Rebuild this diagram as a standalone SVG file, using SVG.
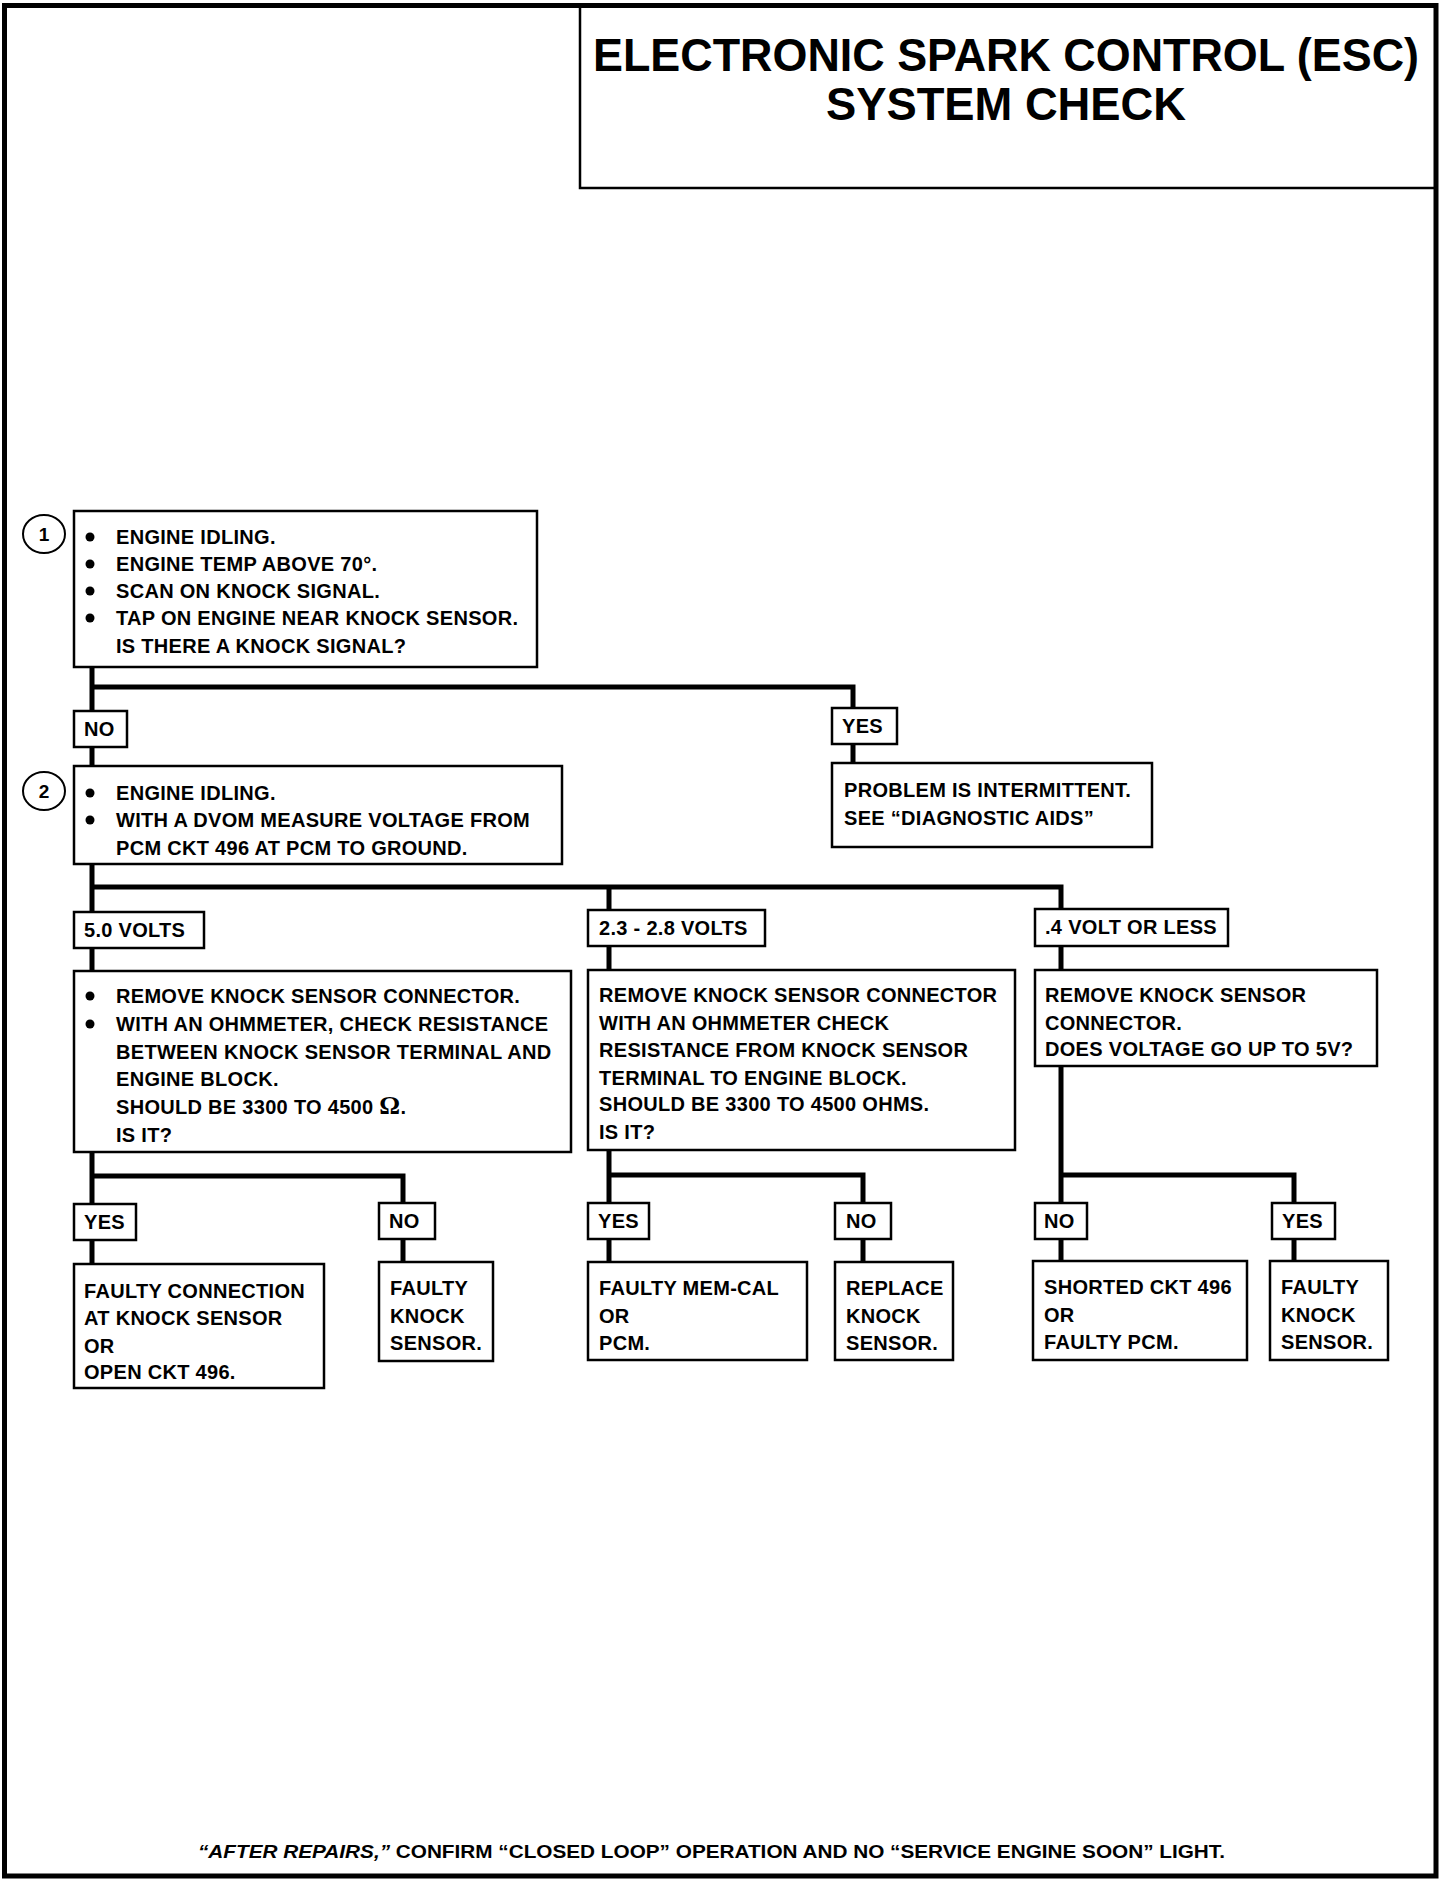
<svg xmlns="http://www.w3.org/2000/svg" width="1456" height="1882" viewBox="0 0 1456 1882">
<style>
text{font-family:"Liberation Sans",Arial,sans-serif;font-weight:bold;fill:#000}
.t{font-size:20px;letter-spacing:0.3px}
.box{fill:#fff;stroke:#000;stroke-width:2.5}
.conn{fill:none;stroke:#000;stroke-width:5;stroke-linejoin:miter;stroke-linecap:square}
.frame{fill:none;stroke:#000;stroke-width:5}
.num{fill:#fff;stroke:#000;stroke-width:2}
</style>
<rect width="1456" height="1882" fill="#fff"/>
<g id="frame">
<path class="frame" d="M4.5,1876 V5.5 H1436 V1876 Z"/>
</g>
<g id="title">
<path d="M580,5.5 V188 H1436" fill="none" stroke="#000" stroke-width="2.5"/>
<text x="1006" y="71" font-size="46" text-anchor="middle" textLength="826" lengthAdjust="spacingAndGlyphs">ELECTRONIC SPARK CONTROL (ESC)</text>
<text x="1006" y="120" font-size="46" text-anchor="middle" textLength="360" lengthAdjust="spacingAndGlyphs">SYSTEM CHECK</text>
</g>
<g id="connectors">
<path class="conn" d="M92,667 V711 M92,687 H853 V708 M92,747 V766 M853,744 V763"/>
<path class="conn" d="M92,864 V912 M92,887 H1061 V909 M609,887 V910 M92,948 V971 M609,946 V970 M1061,946 V970"/>
<path class="conn" d="M92,1152 V1204 M92,1176 H403 V1203 M609,1150 V1203 M609,1175 H863 V1203 M1061,1066 V1203 M1061,1175 H1294 V1203"/>
<path class="conn" d="M92,1240 V1264 M403,1239 V1262 M609,1239 V1262 M863,1239 V1262 M1061,1239 V1262 M1294,1239 V1262"/>
</g>
<g id="step1">
<ellipse class="num" cx="44" cy="534" rx="21" ry="19"/>
<text x="44" y="541" font-size="19" text-anchor="middle">1</text>
<rect class="box" x="74" y="511" width="463" height="156"/>
<circle cx="90" cy="537" r="4.5"/><circle cx="90" cy="564" r="4.5"/><circle cx="90" cy="591" r="4.5"/><circle cx="90" cy="618" r="4.5"/>
<text class="t" x="116" y="544">ENGINE IDLING.</text>
<text class="t" x="116" y="571">ENGINE TEMP ABOVE 70°.</text>
<text class="t" x="116" y="598">SCAN ON KNOCK SIGNAL.</text>
<text class="t" x="116" y="625">TAP ON ENGINE NEAR KNOCK SENSOR.</text>
<text class="t" x="116" y="653">IS THERE A KNOCK SIGNAL?</text>
</g>
<g id="label-no1">
<rect class="box" x="74" y="711" width="53" height="36"/>
<text class="t" x="84" y="736">NO</text>
</g>
<g id="label-yes1">
<rect class="box" x="832" y="708" width="65" height="36"/>
<text class="t" x="842" y="733">YES</text>
</g>
<g id="intermittent">
<rect class="box" x="832" y="763" width="320" height="84"/>
<text class="t" x="844" y="797">PROBLEM IS INTERMITTENT.</text>
<text class="t" x="844" y="825">SEE “DIAGNOSTIC AIDS”</text>
</g>
<g id="step2">
<ellipse class="num" cx="44" cy="791" rx="21" ry="19"/>
<text x="44" y="798" font-size="19" text-anchor="middle">2</text>
<rect class="box" x="74" y="766" width="488" height="98"/>
<circle cx="90" cy="793" r="4.5"/><circle cx="90" cy="820" r="4.5"/>
<text class="t" x="116" y="800">ENGINE IDLING.</text>
<text class="t" x="116" y="827">WITH A DVOM MEASURE VOLTAGE FROM</text>
<text class="t" x="116" y="855">PCM CKT 496 AT PCM TO GROUND.</text>
</g>
<g id="label-5v">
<rect class="box" x="74" y="912" width="130" height="36"/>
<text class="t" x="84" y="937">5.0 VOLTS</text>
</g>
<g id="label-23v">
<rect class="box" x="588" y="910" width="177" height="36"/>
<text class="t" x="599" y="935">2.3 - 2.8 VOLTS</text>
</g>
<g id="label-04v">
<rect class="box" x="1035" y="909" width="193" height="37"/>
<text class="t" x="1045" y="934">.4 VOLT OR LESS</text>
</g>
<g id="check-5v">
<rect class="box" x="74" y="971" width="497" height="181"/>
<circle cx="90" cy="996" r="4.5"/><circle cx="90" cy="1024" r="4.5"/>
<text class="t" x="116" y="1003">REMOVE KNOCK SENSOR CONNECTOR.</text>
<text class="t" x="116" y="1031">WITH AN OHMMETER, CHECK RESISTANCE</text>
<text class="t" x="116" y="1059">BETWEEN KNOCK SENSOR TERMINAL AND</text>
<text class="t" x="116" y="1086">ENGINE BLOCK.</text>
<text class="t" x="116" y="1114">SHOULD BE 3300 TO 4500 <tspan font-size="26" font-family="'Liberation Serif',serif">Ω</tspan>.</text>
<text class="t" x="116" y="1142">IS IT?</text>
</g>
<g id="check-23v">
<rect class="box" x="588" y="970" width="427" height="180"/>
<text class="t" x="599" y="1002">REMOVE KNOCK SENSOR CONNECTOR</text>
<text class="t" x="599" y="1030">WITH AN OHMMETER CHECK</text>
<text class="t" x="599" y="1057">RESISTANCE FROM KNOCK SENSOR</text>
<text class="t" x="599" y="1085">TERMINAL TO ENGINE BLOCK.</text>
<text class="t" x="599" y="1111">SHOULD BE 3300 TO 4500 OHMS.</text>
<text class="t" x="599" y="1139">IS IT?</text>
</g>
<g id="check-04v">
<rect class="box" x="1035" y="970" width="342" height="96"/>
<text class="t" x="1045" y="1002">REMOVE KNOCK SENSOR</text>
<text class="t" x="1045" y="1030">CONNECTOR.</text>
<text class="t" x="1045" y="1056">DOES VOLTAGE GO UP TO 5V?</text>
</g>
<g id="label-yes2">
<rect class="box" x="74" y="1204" width="62" height="36"/>
<text class="t" x="84" y="1229">YES</text>
</g>
<g id="label-no2">
<rect class="box" x="379" y="1203" width="56" height="36"/>
<text class="t" x="389" y="1228">NO</text>
</g>
<g id="label-yes3">
<rect class="box" x="588" y="1203" width="61" height="36"/>
<text class="t" x="598" y="1228">YES</text>
</g>
<g id="label-no3">
<rect class="box" x="835" y="1203" width="56" height="36"/>
<text class="t" x="846" y="1228">NO</text>
</g>
<g id="label-no4">
<rect class="box" x="1035" y="1203" width="52" height="36"/>
<text class="t" x="1044" y="1228">NO</text>
</g>
<g id="label-yes4">
<rect class="box" x="1272" y="1203" width="63" height="36"/>
<text class="t" x="1282" y="1228">YES</text>
</g>
<g id="result-connection">
<rect class="box" x="74" y="1264" width="250" height="124"/>
<text class="t" x="84" y="1298">FAULTY CONNECTION</text>
<text class="t" x="84" y="1325">AT KNOCK SENSOR</text>
<text class="t" x="84" y="1353">OR</text>
<text class="t" x="84" y="1379">OPEN CKT 496.</text>
</g>
<g id="result-sensor1">
<rect class="box" x="379" y="1262" width="114" height="99"/>
<text class="t" x="390" y="1295">FAULTY</text>
<text class="t" x="390" y="1323">KNOCK</text>
<text class="t" x="390" y="1350">SENSOR.</text>
</g>
<g id="result-memcal">
<rect class="box" x="588" y="1262" width="219" height="98"/>
<text class="t" x="599" y="1295">FAULTY MEM-CAL</text>
<text class="t" x="599" y="1323">OR</text>
<text class="t" x="599" y="1350">PCM.</text>
</g>
<g id="result-replace">
<rect class="box" x="835" y="1262" width="118" height="98"/>
<text class="t" x="846" y="1295">REPLACE</text>
<text class="t" x="846" y="1323">KNOCK</text>
<text class="t" x="846" y="1350">SENSOR.</text>
</g>
<g id="result-shorted">
<rect class="box" x="1033" y="1261" width="214" height="99"/>
<text class="t" x="1044" y="1294">SHORTED CKT 496</text>
<text class="t" x="1044" y="1322">OR</text>
<text class="t" x="1044" y="1349">FAULTY PCM.</text>
</g>
<g id="result-sensor2">
<rect class="box" x="1270" y="1261" width="118" height="99"/>
<text class="t" x="1281" y="1294">FAULTY</text>
<text class="t" x="1281" y="1322">KNOCK</text>
<text class="t" x="1281" y="1349">SENSOR.</text>
</g>
<g id="footer">
<text x="198" y="1858" font-size="18" textLength="1027" lengthAdjust="spacingAndGlyphs"><tspan font-style="italic">“AFTER REPAIRS,”</tspan> CONFIRM “CLOSED LOOP” OPERATION AND NO “SERVICE ENGINE SOON” LIGHT.</text>
</g>
</svg>
